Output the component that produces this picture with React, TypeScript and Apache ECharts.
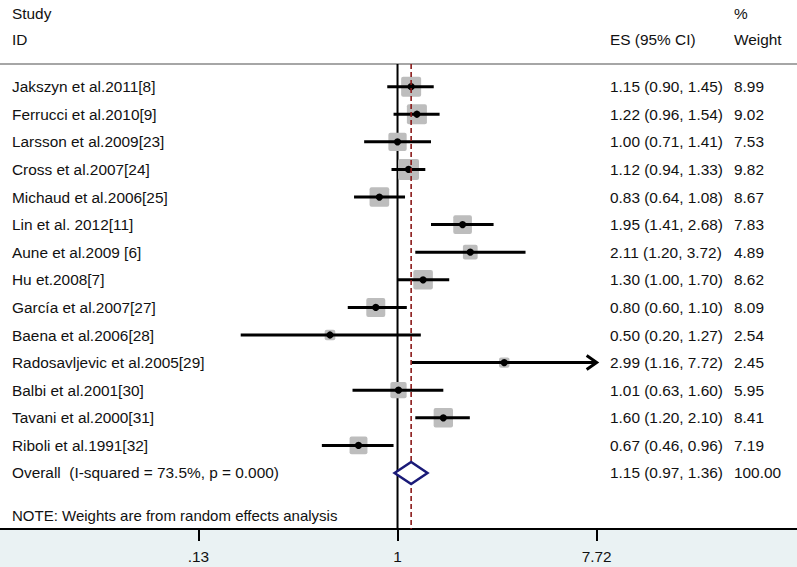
import React, { useEffect, useRef } from "react";
import * as echarts from "echarts";

const studies = [
  "Jakszyn et al.2011[8]",
  "Ferrucci et al.2010[9]",
  "Larsson et al.2009[23]",
  "Cross et al.2007[24]",
  "Michaud et al.2006[25]",
  "Lin et al. 2012[11]",
  "Aune et al.2009 [6]",
  "Hu et.2008[7]",
  "García et al.2007[27]",
  "Baena et al.2006[28]",
  "Radosavljevic et al.2005[29]",
  "Balbi et al.2001[30]",
  "Tavani et al.2000[31]",
  "Riboli et al.1991[32]",
];
const es = [1.15, 1.22, 1.0, 1.12, 0.83, 1.95, 2.11, 1.3, 0.8, 0.5, 2.99, 1.01, 1.6, 0.67];
const lower = [0.9, 0.96, 0.71, 0.94, 0.64, 1.41, 1.2, 1.0, 0.6, 0.2, 1.16, 0.63, 1.2, 0.46];
const upper = [1.45, 1.54, 1.41, 1.33, 1.08, 2.68, 3.72, 1.7, 1.1, 1.27, 7.72, 1.6, 2.1, 0.96];
const weights = [8.99, 9.02, 7.53, 9.82, 8.67, 7.83, 4.89, 8.62, 8.09, 2.54, 2.45, 5.95, 8.41, 7.19];

const overallLabel = "Overall  (I-squared = 73.5%, p = 0.000)";
const overallES = 1.15;
const overallLower = 0.97;
const overallUpper = 1.36;
const overallWeight = 100.0;

const tickValues = [0.1295, 1, 7.72];
const tickLabels = [".13", "1", "7.72"];
const axisCap = 7.72;

const headerStudy = "Study";
const headerID = "ID";
const headerES = "ES (95% CI)";
const headerPct = "%";
const headerWeight = "Weight";
const note = "NOTE: Weights are from random effects analysis";

const FONT = "'Liberation Sans', Arial, Helvetica, sans-serif";
const TEXT_COLOR = "#111111";
const FS = 15.4;

const fmt = (v: number) => v.toFixed(2);

export default function App() {
  const ref = useRef<HTMLDivElement>(null);

  useEffect(() => {
    if (!ref.current) return;
    const chart = echarts.init(ref.current, undefined, { renderer: "svg" });

    const nRows = studies.length;
    const overallRow = nRows;
    const sepRow = -0.82;
    const yMin = -3.14;
    const yMax = 16.03;
    const xMin = -4.08;
    const xMax = 4.1;
    const boxScale = 6.67;

    const studyData = studies.map((_, i) => [
      Math.log(es[i]),
      i,
      Math.log(lower[i]),
      Math.log(upper[i]),
      weights[i],
      upper[i] >= axisCap ? 1 : 0,
    ]);

    const textData = studies.map((s, i) => [0, i]);
    textData.push([0, overallRow]);
    const labelsLeft = [...studies, overallLabel];
    const labelsES = [
      ...studies.map((_, i) => `${fmt(es[i])} (${fmt(lower[i])}, ${fmt(upper[i])})`),
      `${fmt(overallES)} (${fmt(overallLower)}, ${fmt(overallUpper)})`,
    ];
    const labelsW = [...weights.map(fmt), fmt(overallWeight)];
    const font = `${FS}px ${FONT}`;

    const option: any = {
      animation: false,
      backgroundColor: "#eaf2f3",
      grid: {
        left: 0,
        right: 0,
        top: 0,
        bottom: 38,
        show: true,
        backgroundColor: "#ffffff",
        borderWidth: 0,
      },
      xAxis: {
        type: "value",
        min: xMin,
        max: xMax,
        splitLine: { show: false },
        axisLine: { show: true, onZero: false, lineStyle: { color: "#000", width: 2 } },
        axisTick: {
          show: true,
          length: 12,
          lineStyle: { color: "#000", width: 2 },
          customValues: tickValues.map((v) => Math.log(v)),
        },
        axisLabel: {
          show: true,
          margin: 20,
          color: TEXT_COLOR,
          fontSize: FS,
          fontFamily: FONT,
          customValues: tickValues.map((v) => Math.log(v)),
          formatter: (val: number) => {
            let best = 0;
            let d = Infinity;
            tickValues.forEach((t, k) => {
              const dd = Math.abs(Math.log(t) - val);
              if (dd < d) {
                d = dd;
                best = k;
              }
            });
            return tickLabels[best];
          },
        },
      },
      yAxis: {
        type: "value",
        inverse: true,
        min: yMin,
        max: yMax,
        show: false,
      },
      graphic: [
        { type: "text", left: 12, top: 6, style: { text: headerStudy, font, fill: TEXT_COLOR } },
        { type: "text", left: 12, top: 32, style: { text: headerID, font, fill: TEXT_COLOR } },
        { type: "text", left: 610, top: 32, style: { text: headerES, font, fill: TEXT_COLOR } },
        { type: "text", left: 734, top: 6, style: { text: headerPct, font, fill: TEXT_COLOR } },
        { type: "text", left: 734, top: 32, style: { text: headerWeight, font, fill: TEXT_COLOR } },
        { type: "text", left: 12, top: 508, style: { text: note, font: `15px ${FONT}`, fill: TEXT_COLOR } },
      ],
      series: [
        {
          type: "line",
          data: [
            [xMin, sepRow],
            [xMax, sepRow],
          ],
          symbol: "none",
          lineStyle: { color: "#a6a6a6", width: 2 },
          z: 1,
          silent: true,
        },
        {
          type: "line",
          data: [
            [Math.log(1), sepRow],
            [Math.log(1), yMax],
          ],
          symbol: "none",
          lineStyle: { color: "#000", width: 2 },
          z: 2,
          silent: true,
        },
        {
          type: "custom",
          z: 3,
          silent: true,
          data: studyData,
          renderItem: (params: any, api: any) => {
            const row = api.value(1);
            const c = api.coord([api.value(0), row]);
            const l = api.coord([api.value(2), row]);
            const u = api.coord([api.value(3), row]);
            const side = boxScale * Math.sqrt(api.value(4));
            const arrow = api.value(5) === 1;
            const children: any[] = [
              {
                type: "rect",
                shape: { x: c[0] - side / 2, y: c[1] - side / 2, width: side, height: side, r: 2 },
                style: { fill: "#bdbdbd" },
              },
              {
                type: "line",
                shape: { x1: l[0], y1: l[1], x2: u[0], y2: u[1] },
                style: { stroke: "#000", lineWidth: 3 },
              },
              {
                type: "circle",
                shape: { cx: c[0], cy: c[1], r: 3.6 },
                style: { fill: "#000" },
              },
            ];
            if (arrow) {
              children.push({
                type: "polyline",
                shape: {
                  points: [
                    [u[0] - 10, u[1] - 7],
                    [u[0], u[1]],
                    [u[0] - 10, u[1] + 7],
                  ],
                },
                style: { stroke: "#000", lineWidth: 3, fill: null },
              });
            }
            return { type: "group", children };
          },
        },
        {
          type: "line",
          data: [
            [Math.log(overallES), sepRow],
            [Math.log(overallES), yMax],
          ],
          symbol: "none",
          lineStyle: { color: "#8b1a1a", width: 1.6, type: [5, 3] },
          z: 4,
          silent: true,
        },
        {
          type: "custom",
          z: 5,
          silent: true,
          data: [[Math.log(overallES), overallRow, Math.log(overallLower), Math.log(overallUpper)]],
          renderItem: (params: any, api: any) => {
            const row = api.value(1);
            const c = api.coord([api.value(0), row]);
            const l = api.coord([api.value(2), row]);
            const u = api.coord([api.value(3), row]);
            const h = 11;
            return {
              type: "polygon",
              shape: {
                points: [
                  [l[0], c[1]],
                  [c[0], c[1] - h],
                  [u[0], c[1]],
                  [c[0], c[1] + h],
                ],
              },
              style: { stroke: "#1a1a78", lineWidth: 2.5, fill: "#ffffff" },
            };
          },
        },
        {
          type: "custom",
          z: 6,
          silent: true,
          data: textData,
          renderItem: (params: any, api: any) => {
            const i = params.dataIndex;
            const y = api.coord([0, api.value(1)])[1];
            return {
              type: "group",
              children: [
                {
                  type: "text",
                  x: 12,
                  y,
                  style: { text: labelsLeft[i], font, fill: TEXT_COLOR, verticalAlign: "middle", align: "left" },
                },
                {
                  type: "text",
                  x: 610,
                  y,
                  style: { text: labelsES[i], font, fill: TEXT_COLOR, verticalAlign: "middle", align: "left" },
                },
                {
                  type: "text",
                  x: 734,
                  y,
                  style: { text: labelsW[i], font, fill: TEXT_COLOR, verticalAlign: "middle", align: "left" },
                },
              ],
            };
          },
        },
      ],
    };

    chart.setOption(option);
    return () => chart.dispose();
  }, []);

  return (
    <div
      ref={ref}
      style={{ position: "absolute", left: 0, top: 0, width: 797, height: 567 }}
    />
  );
}
